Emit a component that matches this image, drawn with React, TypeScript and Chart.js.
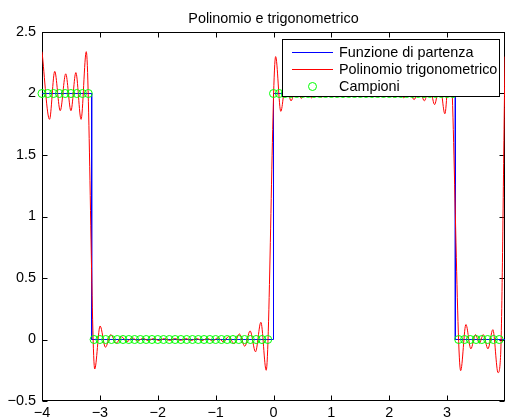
import React, { useEffect, useRef } from "react";
import { Chart, registerables } from "chart.js";

Chart.register(...registerables);

const TITLE = "Polinomio e trigonometrico";
const LEGEND_LABELS = ["Funzione di partenza", "Polinomio trigonometrico", "Campioni"];
const X_TICKS = [-4, -3, -2, -1, 0, 1, 2, 3, 4];
const Y_TICKS = [-0.5, 0, 0.5, 1, 1.5, 2, 2.5];

// Funzione di partenza (onda quadra)
const funcX = [-4, -3.1416, -3.1416, 0, 0, 3.1416, 3.1416, 4];
const funcY = [2, 2, 0, 0, 2, 2, 0, 0];

// Polinomio trigonometrico: estremi
const polyX = [
  -4, -3.87, -3.78, -3.685, -3.59, -3.5, -3.415, -3.325, -3.235,
  -3.089, -2.996, -2.904, -2.811, -2.719, -2.626, -2.533, -2.441, -2.348, -2.256, -2.163,
  -2.07, -1.978, -1.885, -1.793, -1.7, -1.607, -1.515, -1.422, -1.33, -1.237, -1.144,
  -1.052, -0.959, -0.867, -0.774, -0.681, -0.589, -0.496, -0.404, -0.311, -0.218, -0.126,
  0.037, 0.126, 0.214, 0.303, 0.391, 0.48, 0.569, 0.657, 0.746, 0.834, 0.923, 1.012,
  1.1, 1.189, 1.277, 1.366, 1.455, 1.543, 1.632, 1.72, 1.809, 1.898, 1.986, 2.075,
  2.163, 2.252, 2.341, 2.429, 2.518, 2.606, 2.695, 2.784, 2.872, 2.961, 3.049,
  3.234, 3.325, 3.41, 3.49, 3.557, 3.625, 3.705, 3.79, 3.88, 3.925, 4.0,
];
const polyY = [
  2.34, 1.79, 2.18, 1.86, 2.16, 1.86, 2.17, 1.79, 2.34,
  -0.24, 0.11, -0.063, 0.04, -0.03, 0.022, -0.017, 0.014, -0.012, 0.01, -0.009,
  0.008, -0.008, 0.007, -0.007, 0.007, -0.007, 0.007, -0.008, 0.008, -0.009, 0.01,
  -0.012, 0.014, -0.018, 0.024, -0.034, 0.045, -0.055, 0.07, -0.1, 0.14, -0.25,
  2.3, 1.855, 2.1, 1.94, 2.055, 1.96, 2.04, 1.965, 2.032, 1.97, 2.028, 1.973,
  2.025, 1.975, 2.024, 1.976, 2.024, 1.976, 2.024, 1.975, 2.025, 1.974, 2.026, 1.972,
  2.03, 1.965, 2.035, 1.95, 2.045, 1.94, 2.06, 1.91, 2.09, 1.835, 2.3,
  -0.253, 0.122, -0.076, 0.04, -0.03, 0.04, -0.076, 0.08, -0.27, -0.12, 2.3,
];

// Campioni
const sampleX = [
  -4, -3.9, -3.8, -3.7, -3.6, -3.5, -3.4, -3.3, -3.2,
  -3.1, -3, -2.9, -2.8, -2.7, -2.6, -2.5, -2.4, -2.3, -2.2, -2.1, -2, -1.9, -1.8, -1.7, -1.6,
  -1.5, -1.4, -1.3, -1.2, -1.1, -1, -0.9, -0.8, -0.7, -0.6, -0.5, -0.4, -0.3, -0.2, -0.1,
  0, 0.1, 0.2, 0.3, 0.4, 0.5, 0.6, 0.7, 0.8, 0.9, 1, 1.1, 1.2, 1.3, 1.4, 1.5,
  1.6, 1.7, 1.8, 1.9, 2, 2.1, 2.2, 2.3, 2.4, 2.5, 2.6, 2.7, 2.8, 2.9, 3, 3.1,
  3.2, 3.3, 3.4, 3.5, 3.6, 3.7, 3.8, 3.9,
];
const sampleY = [
  2, 2, 2, 2, 2, 2, 2, 2, 2,
  0, 0, 0, 0, 0, 0, 0, 0, 0, 0, 0, 0, 0, 0, 0, 0,
  0, 0, 0, 0, 0, 0, 0, 0, 0, 0, 0, 0, 0, 0, 0,
  2, 2, 2, 2, 2, 2, 2, 2, 2, 2, 2, 2, 2, 2, 2, 2,
  2, 2, 2, 2, 2, 2, 2, 2, 2, 2, 2, 2, 2, 2, 2, 2,
  0, 0, 0, 0, 0, 0, 0, 0,
];

const FONT = "'Liberation Sans', Arial, Helvetica, sans-serif";
const TEXT_SIZE = 14.4;

const toPoints = (xs: number[], ys: number[]) => xs.map((x, i) => ({ x, y: ys[i] }));
const fmt = (v: number) => String(v).replace("-", "\u2212");

const matlabPlugin = {
  id: "matlabBox",
  beforeDatasetsDraw(chart: any) {
    const { ctx, chartArea: a, scales } = chart;
    ctx.save();
    ctx.strokeStyle = "#000";
    ctx.lineWidth = 1;
    const L = Math.round(a.left) + 0.5;
    const R = Math.round(a.right) - 0.5;
    const T = Math.round(a.top) + 0.5;
    const B = Math.round(a.bottom) - 0.5;
    ctx.strokeRect(L, T, R - L, B - T);
    const tl = 5;
    ctx.beginPath();
    for (const v of X_TICKS) {
      const px = Math.round(scales.x.getPixelForValue(v)) + 0.5;
      ctx.moveTo(px, B);
      ctx.lineTo(px, B - tl);
      ctx.moveTo(px, T);
      ctx.lineTo(px, T + tl);
    }
    for (const v of Y_TICKS) {
      const py = Math.round(scales.y.getPixelForValue(v)) + 0.5;
      ctx.moveTo(L, py);
      ctx.lineTo(L + tl, py);
      ctx.moveTo(R, py);
      ctx.lineTo(R - tl, py);
    }
    ctx.stroke();
    ctx.fillStyle = "#000";
    ctx.font = `${TEXT_SIZE}px ${FONT}`;
    ctx.textAlign = "center";
    ctx.textBaseline = "alphabetic";
    ctx.fillText(TITLE, (a.left + a.right) / 2, 22.5);
    ctx.restore();
  },
  afterDraw(chart: any) {
    const ctx = chart.ctx;
    const ds = chart.data.datasets;
    ctx.save();
    const bx = 282.5, by = 39.5, bw = 217, bh = 57;
    ctx.fillStyle = "#fff";
    ctx.fillRect(bx, by, bw, bh);
    ctx.strokeStyle = "#000";
    ctx.lineWidth = 1;
    ctx.strokeRect(bx, by, bw, bh);
    const baselines = [56.5, 73.5, 90.5];
    ctx.font = `${TEXT_SIZE}px ${FONT}`;
    ctx.textAlign = "left";
    ctx.textBaseline = "alphabetic";
    for (let i = 0; i < 3; i++) {
      const ly = Math.round(baselines[i] - 5) + 0.5;
      ctx.strokeStyle = ds[i].borderColor;
      ctx.lineWidth = 1;
      if (i < 2) {
        ctx.beginPath();
        ctx.moveTo(292, ly);
        ctx.lineTo(333, ly);
        ctx.stroke();
      } else {
        ctx.beginPath();
        ctx.arc(312.5, ly, 4, 0, Math.PI * 2);
        ctx.stroke();
      }
      ctx.fillStyle = "#000";
      ctx.fillText(LEGEND_LABELS[i], 339, baselines[i]);
    }
    ctx.restore();
  },
};

export default function App() {
  const ref = useRef<HTMLCanvasElement | null>(null);
  useEffect(() => {
    if (!ref.current) return;
    const chart = new Chart(ref.current, {
      type: "scatter",
      data: {
        datasets: [
          {
            label: LEGEND_LABELS[0],
            data: toPoints(funcX, funcY),
            showLine: true,
            borderColor: "#0000ff",
            backgroundColor: "#0000ff",
            borderWidth: 1,
            pointRadius: 0,
            tension: 0,
            order: 2,
          },
          {
            label: LEGEND_LABELS[1],
            data: toPoints(polyX, polyY),
            showLine: true,
            borderColor: "#ff0000",
            backgroundColor: "#ff0000",
            borderWidth: 1,
            pointRadius: 0,
            cubicInterpolationMode: "monotone",
            order: 1,
          },
          {
            label: LEGEND_LABELS[2],
            data: toPoints(sampleX, sampleY),
            showLine: false,
            borderColor: "#00ff00",
            backgroundColor: "rgba(0,0,0,0)",
            borderWidth: 1,
            pointRadius: 4,
            pointStyle: "circle",
            clip: false,
            order: 0,
          },
        ] as any,
      },
      options: {
        responsive: false,
        animation: false,
        devicePixelRatio: 1,
        layout: { padding: { top: 32, left: 0, right: 0, bottom: 0 } },
        plugins: {
          legend: { display: false },
          title: { display: false },
          tooltip: { enabled: false },
        },
        scales: {
          x: {
            type: "linear",
            min: -4,
            max: 4,
            afterBuildTicks: (s: any) => {
              s.ticks = X_TICKS.map((v) => ({ value: v }));
            },
            afterFit: (s: any) => {
              s.height = 19;
            },
            grid: { display: false, drawTicks: false },
            border: { display: false },
            ticks: {
              padding: 3,
              maxRotation: 0,
              autoSkip: false,
              color: "#000",
              font: { family: FONT, size: TEXT_SIZE },
              callback: (v: any) => (v === 4 ? "" : fmt(Number(v))),
            },
          },
          y: {
            type: "linear",
            min: -0.5,
            max: 2.5,
            afterBuildTicks: (s: any) => {
              s.ticks = Y_TICKS.map((v) => ({ value: v }));
            },
            afterFit: (s: any) => {
              s.width = 42;
            },
            grid: { display: false, drawTicks: false },
            border: { display: false },
            ticks: {
              padding: 6,
              autoSkip: false,
              color: "#000",
              font: { family: FONT, size: TEXT_SIZE },
              callback: (v: any) => fmt(Number(v)),
            },
          },
        },
      },
      plugins: [matlabPlugin],
    });
    return () => chart.destroy();
  }, []);
  return (
    <div
      style={{
        position: "fixed",
        left: 0,
        top: 0,
        width: 505,
        height: 420,
        overflow: "hidden",
        background: "#fff",
      }}
    >
      <canvas ref={ref} width={510} height={420} style={{ display: "block", width: 510, height: 420 }} />
    </div>
  );
}
